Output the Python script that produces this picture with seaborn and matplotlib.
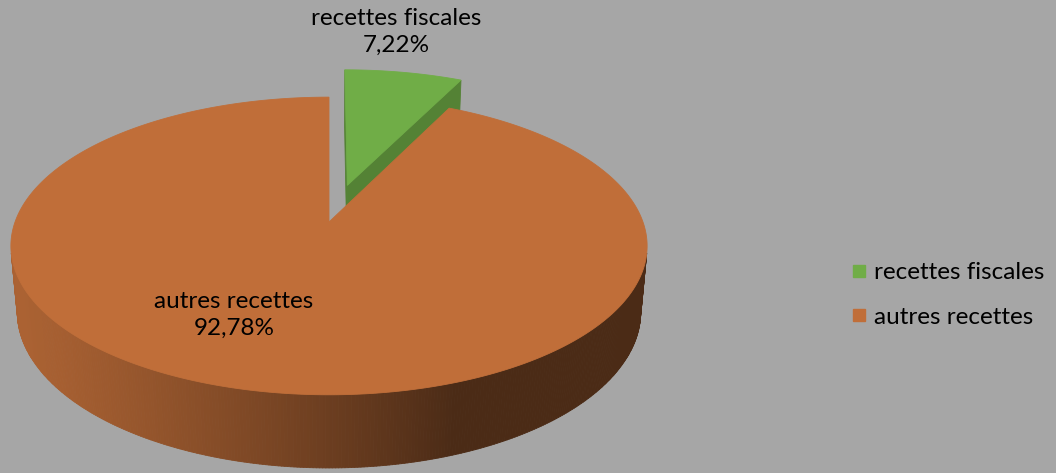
import numpy as np
import matplotlib
matplotlib.use("Agg")
import matplotlib.pyplot as plt
from matplotlib.patches import Polygon
from matplotlib.collections import PolyCollection
from matplotlib.lines import Line2D
from matplotlib.colors import to_rgb
import seaborn as sns

# --- data -------------------------------------------------------------
categories = ["recettes fiscales", "autres recettes"]
shares = [7.22, 92.78]          # percent
top_colors = ["#70AD47", "#C06E39"]
cut_colors = ["#548235", "#7A4221"]
explode = [0.27, 0.0]

sns.set_theme(style="white")
plt.rcParams["font.family"] = ["Lato", "DejaVu Sans"]
plt.rcParams["text.color"] = "black"

W, H = 1056, 473
BG = "#A6A6A6"
fig = plt.figure(figsize=(W / 100, H / 100), dpi=100, facecolor=BG)
ax = fig.add_axes([0, 0, 1, 1])
ax.set_xlim(0, W)
ax.set_ylim(H, 0)
ax.set_facecolor(BG)
ax.axis("off")

# --- simple perspective camera looking down on the pie -----------------
elev = np.radians(27.5)
dist = 5.51
focal = 1730.0
thick = 0.238
cx, cy = 329.0, 222.0
se, ce = np.sin(elev), np.cos(elev)
cam = np.array([0.0, -dist * ce, dist * se])


def project(X, Y, Z):
    X, Y, Z = np.broadcast_arrays(np.asarray(X, float), np.asarray(Y, float), np.asarray(Z, float))
    depth = dist + Y * ce - Z * se
    return np.column_stack([cx + X * focal / depth, cy - (Y * se + Z * ce) * focal / depth])


def faces_camera(p, n):
    return np.dot(cam - np.asarray(p), np.asarray(n)) > 0


def side_shade(rgb, t):
    light_dir = np.radians(200)
    lam = max(0.0, np.cos(t - light_dir))
    k = 0.39 + 0.50 * lam
    return tuple(np.clip(np.array(rgb) * k, 0, 1))


# slice geometry: start at 12 o'clock, run clockwise
slices = []
start = np.pi / 2
for name, v, ctop, ccut, ex in zip(categories, shares, top_colors, cut_colors, explode):
    sweep = 2 * np.pi * v / 100.0
    t0, t1 = start, start - sweep
    tm = 0.5 * (t0 + t1)
    off = np.array([ex * np.cos(tm), ex * np.sin(tm)])
    slices.append(dict(name=name, value=v, t0=t0, t1=t1, tm=tm, off=off,
                       top=ctop, cut=ccut))
    start = t1


# farthest slice (by depth of its centre of mass) is painted first
def far_key(s):
    ang = np.linspace(s["t0"], s["t1"], 200)
    return -(s["off"][1] + np.mean(np.sin(ang)) * 0.66)


for s in sorted(slices, key=far_key):
    ox, oy = s["off"]
    n = max(8, int(abs(s["t0"] - s["t1"]) / np.radians(0.5)))
    ang = np.linspace(s["t0"], s["t1"], n + 1)
    rx, ry = ox + np.cos(ang), oy + np.sin(ang)
    top_pts = project(rx, ry, 0.0)
    bot_pts = project(rx, ry, -thick)

    # outer wall
    quads, cols = [], []
    base = to_rgb(s["top"])
    for i in range(n):
        tmid = 0.5 * (ang[i] + ang[i + 1])
        p = [ox + np.cos(tmid), oy + np.sin(tmid), -thick / 2]
        if faces_camera(p, [np.cos(tmid), np.sin(tmid), 0.0]):
            quads.append([top_pts[i], top_pts[i + 1], bot_pts[i + 1], bot_pts[i]])
            cols.append(side_shade(base, tmid))
    if quads:
        ax.add_collection(PolyCollection(quads, facecolors=cols, edgecolors=cols,
                                         linewidths=0.6, zorder=2))

    # radial cut faces
    c_top = project(ox, oy, 0.0)[0]
    c_bot = project(ox, oy, -thick)[0]
    for t, nrm, k in ((s["t0"], [-np.sin(s["t0"]), np.cos(s["t0"]), 0.0], 0),
                      (s["t1"], [np.sin(s["t1"]), -np.cos(s["t1"]), 0.0], -1)):
        mid = [ox + 0.5 * np.cos(t), oy + 0.5 * np.sin(t), -thick / 2]
        if faces_camera(mid, nrm):
            ax.add_patch(Polygon([c_top, top_pts[k], bot_pts[k], c_bot], closed=True,
                                 facecolor=s["cut"], edgecolor=s["cut"], lw=0.6, zorder=2))

    # top face
    ax.add_patch(Polygon(np.vstack([c_top, top_pts]), closed=True,
                         facecolor=s["top"], edgecolor=s["top"], lw=0.6, zorder=3))


def pct(v):
    return f"{v:.2f}".replace(".", ",") + "%"


FS = 17.5
label_pos = {"recettes fiscales": (396, 32), "autres recettes": (234, 315)}
for s in slices:
    x, y = label_pos[s["name"]]
    ax.text(x, y, f"{s['name']}\n{pct(s['value'])}", ha="center", va="center",
            fontsize=FS, color="black", linespacing=1.35, zorder=5)

handles = [Line2D([], [], marker="s", linestyle="none", markersize=8.6,
                  markerfacecolor=c, markeredgecolor=c) for c in top_colors]
fig.legend(handles, categories, loc="center left", bbox_to_anchor=(850 / W, 1 - 295 / H),
           frameon=False, fontsize=FS, handlelength=0.7, handletextpad=0.28,
           labelspacing=0.95, borderpad=0, borderaxespad=0, labelcolor="black")

fig.savefig("out.png", dpi=100, facecolor=BG)
